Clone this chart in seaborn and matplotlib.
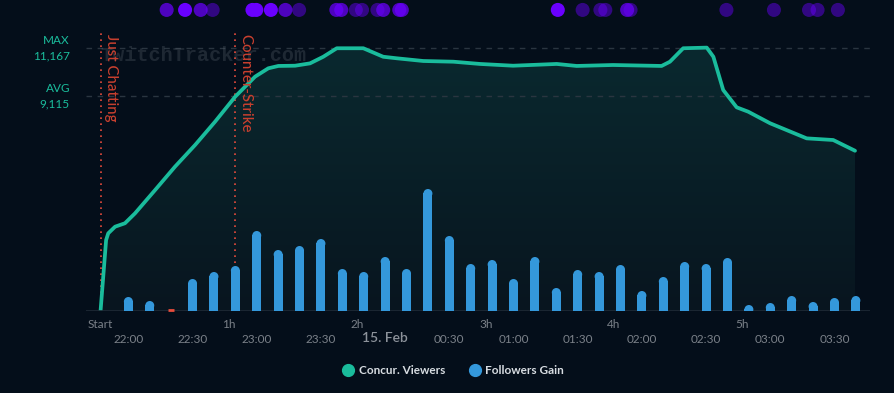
import matplotlib
matplotlib.use("Agg")

import numpy as np
import matplotlib.pyplot as plt
import matplotlib.transforms as mtransforms
from matplotlib.colors import LinearSegmentedColormap, to_rgba
from matplotlib.lines import Line2D
import seaborn as sns

# concurrent viewers, minutes after stream start (21:47)
viewer_minutes = [0, 2.6, 3.6, 6.8, 11.4, 16.1, 25.5, 34.8, 44.2, 53.5, 62.9, 72.2,
                  78.4, 83.1, 90.9, 97.9, 104.1, 110.4, 122.8, 132.1, 138.4, 150.8,
                  164.9, 177.3, 192.8, 213.2, 222.5, 239.5, 262.2, 266.1, 272.3,
                  283.3, 286.4, 291.0, 297.3, 302.7, 312.9, 330.0, 342.4, 352.6]
viewers = [0, 3010, 3295, 3575, 3720, 4140, 5130, 6120, 7040, 8025, 9085, 9935,
           10290, 10390, 10400, 10500, 10780, 11140, 11140, 10780, 10715, 10600,
           10570, 10475, 10400, 10475, 10390, 10430, 10390, 10570, 11140,
           11167, 10780, 9370, 8635, 8450, 7960, 7320, 7250, 6795]

# followers gain every 10 min, 22:00 -> 03:40
follower_minutes = [13, 23, 33, 43, 53, 63, 73, 83, 93, 103, 113, 123, 133, 143,
                    153, 163, 173, 183, 193, 203, 213, 223, 233, 243, 253, 263,
                    273, 283, 293, 303, 313, 323, 333, 343, 353]
followers = [14, 10, 0, 32, 39, 45, 80, 61, 65, 72, 42, 39, 54, 42, 122, 75, 47,
             51, 32, 54, 23, 41, 39, 46, 20, 34, 49, 47, 53, 6, 8, 15, 9, 13, 15]

hour_ticks = [0, 60, 120, 180, 240, 300]
hour_labels = ["Start", "1h", "2h", "3h", "4h", "5h"]
clock_ticks = [13, 43, 73, 103, 133, 163, 193, 223, 253, 283, 313, 343]
clock_labels = ["22:00", "22:30", "23:00", "23:30", "15. Feb", "00:30",
                "01:00", "01:30", "02:00", "02:30", "03:00", "03:30"]

game_minutes = [0, 63]
game_names = ["Just Chatting", "Counter-Strike"]

max_viewers = 11167
avg_viewers = 9115

# markers along the top (1 = faint, 3 = strong)
event_minutes = [30.9, 39.5, 46.8, 52.4, 71.0, 72.8, 79.6, 86.4, 92.8, 110.2, 112.5,
                 119.3, 122.2, 129.4, 132.1, 139.6, 140.8, 213.7, 225.3, 233.6,
                 235.9, 246.1, 247.7, 292.5, 314.7, 331.1, 335.1, 344.6]
event_level = [2, 3, 2, 1, 3, 3, 3, 2, 1, 2, 2, 1, 1, 1, 2, 2, 2, 3, 1, 1, 1, 2, 1,
               1, 1, 1, 1, 1]

BG = "#040e1a"
TEAL = "#1abc9c"
BLUE = "#3498db"
RED = "#e74c3c"
TICK = "#7b8189"

sns.set_theme(style="dark")
plt.rcParams["font.family"] = ["Lato", "DejaVu Sans"]

W, H = 895, 393
fig = plt.figure(figsize=(W / 100, H / 100), dpi=100, facecolor=BG)
ax = fig.add_axes([86 / W, (H - 311) / H, 784 / W, 278 / H])
ax.set_facecolor(BG)
ax2 = ax.twinx()

XMIN, XMAX = -6.8, 359.6
YMAX = 11787
BMAX = 278
px_per_min = 784 / (XMAX - XMIN)

# gradient fill under the viewer curve
poly = ax.fill_between(viewer_minutes, viewers, 0, color="none", lw=0)
grad = np.linspace(0, 1, 256).reshape(-1, 1)
cmap = LinearSegmentedColormap.from_list("fill", ["#08151f", "#0a2a30"])
im = ax.imshow(grad, extent=[XMIN, XMAX, 0, YMAX], origin="lower",
               aspect="auto", cmap=cmap, zorder=1)
im.set_clip_path(poly.get_paths()[0], transform=ax.transData)

ax.axhline(max_viewers, color="#2a3540", lw=1, dashes=(4, 4), zorder=1.5)
ax.axhline(avg_viewers, color="#2a3540", lw=1, dashes=(4, 4), zorder=1.5)

ax.text(0, 10850, "TwitchTracker.com", family="Liberation Mono", weight="bold",
        fontsize=14.5, color="#5c6570", alpha=0.3, va="center", ha="left", zorder=2)

sns.lineplot(x=viewer_minutes, y=viewers, ax=ax, color=TEAL, linewidth=2.7,
             solid_joinstyle="round", solid_capstyle="round", zorder=3)

for m, name in zip(game_minutes, game_names):
    ax.axvline(m, color=RED, lw=1.2, ls=(0, (1, 2.6)), zorder=2.5)
    ax.text(m, 0.995, name, transform=mtransforms.offset_copy(
                mtransforms.blended_transform_factory(ax.transData, ax.transAxes),
                fig=fig, x=3, y=0, units="dots"),
            rotation=-90, ha="left", va="top", color="#c9402f", fontsize=10.8,
            weight="medium")

ax.axhline(0, color="#1f2a36", lw=1.2, zorder=4)

# followers bars on a hidden second scale
sns.barplot(x=follower_minutes, y=followers, native_scale=True, width=0.42,
            color=BLUE, saturation=1, errorbar=None, ax=ax2, zorder=3,
            linewidth=0, edgecolor=BLUE)
ax2.set_ylim(0, BMAX)
ax.set_xlim(XMIN, XMAX)
ax.set_ylim(0, YMAX)

# rounded tops
caps_x, caps_y, caps_s = [], [], []
for p in ax2.patches:
    h = p.get_height()
    if h > 0:
        w_px = p.get_width() * px_per_min
        r = (w_px / 2) * BMAX / 278
        p.set_height(max(h - r, 0))
        p.set_linewidth(0)
        caps_x.append(p.get_x() + p.get_width() / 2)
        caps_y.append(max(h - r, 0))
        caps_s.append((w_px * 0.72) ** 2)
ax2.scatter(caps_x, caps_y, s=caps_s, color=BLUE, lw=0, zorder=3)
zero_x = [m for m, f in zip(follower_minutes, followers) if f <= 0]
ax2.plot(zero_x, [1.2] * len(zero_x), ls="none", marker="_", ms=5, mew=2,
         color=RED, clip_on=False)

# top markers
top = mtransforms.blended_transform_factory(ax.transData, ax.transAxes)
alpha_map = {1: 0.45, 2: 0.72, 3: 1.0}
cols = [to_rgba("#6a00ff", alpha_map[l]) for l in event_level]
ax.scatter(event_minutes, [1.083] * len(event_minutes), s=102, c=cols, lw=0,
           transform=top, clip_on=False)

# two-row x labels
for t, lab in zip(hour_ticks, hour_labels):
    ax.text(t, -0.05, lab, transform=top, ha="center", va="center",
            fontsize=8.5, color=TICK)
for t, lab in zip(clock_ticks, clock_labels):
    big = lab == "15. Feb"
    ax.text(t, -0.097 if big else -0.102, lab, transform=top, ha="center",
            va="center", fontsize=10 if big else 8.5,
            weight="semibold" if big else "normal",
            color="#8c929a" if big else TICK)

for a in (ax, ax2):
    a.set_xticks([])
    a.set_yticks([])
    a.set_xlabel("")
    a.set_ylabel("")
    a.grid(False)
    for s in a.spines.values():
        s.set_visible(False)

# MAX / AVG labels at left
fig.text(70 / W, 1 - 41 / H, "MAX", ha="right", va="center", color=TEAL, fontsize=8.5)
fig.text(70 / W, 1 - 56 / H, f"{max_viewers:,}", ha="right", va="center",
         color=TEAL, fontsize=8.5)
fig.text(70 / W, 1 - 89 / H, "AVG", ha="right", va="center", color=TEAL, fontsize=8.5)
fig.text(70 / W, 1 - 104 / H, f"{avg_viewers:,}", ha="right", va="center",
         color=TEAL, fontsize=8.5)

handles = [Line2D([], [], ls="none", marker="o", ms=8.5, color=TEAL),
           Line2D([], [], ls="none", marker="o", ms=8.5, color=BLUE)]
leg = fig.legend(handles, ["Concur. Viewers", "Followers Gain"], loc="center",
                 bbox_to_anchor=(453 / W, 1 - 371 / H), ncol=2, frameon=False,
                 handletextpad=0.4, columnspacing=2.0, handlelength=1.0,
                 prop={"weight": "bold", "size": 8.5})
for t in leg.get_texts():
    t.set_color("#d8dde2")

fig.savefig("out.png", dpi=100, facecolor=BG)
